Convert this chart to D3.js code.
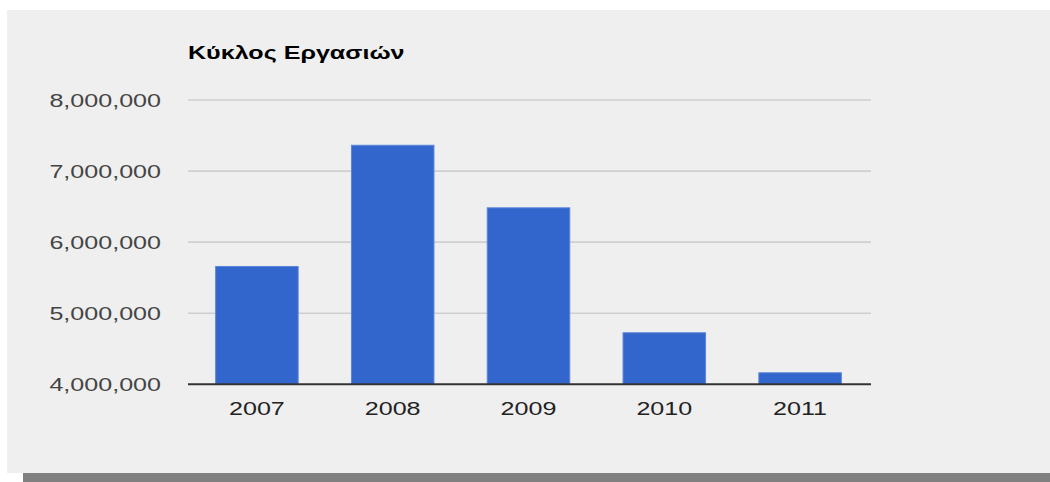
<!DOCTYPE html>
<html>
<head>
<meta charset="utf-8">
<script src="https://cdn.jsdelivr.net/npm/d3@7"></script>
<style>
  html, body { margin: 0; padding: 0; background: #ffffff; }
  svg { display: block; }
</style>
</head>
<body>
<svg id="chart" width="1050" height="482"></svg>
<script>
// ---- data ----
const title = "Κύκλος Εργασιών";
const categories = ["2007", "2008", "2009", "2010", "2011"];
const values = [5665000, 7370000, 6490000, 4732000, 4169000];
const yTicks = [4000000, 5000000, 6000000, 7000000, 8000000];
const yDomain = [4000000, 8000000];

// ---- layout ----
const W = 1050, H = 482;
const plot = { left: 188, right: 871, top: 100, bottom: 384.3 };
const stretch = 1.32; // reference text is horizontally stretched

const svg = d3.select("#chart");

// shadow bar + panel
svg.append("rect").attr("x", 23).attr("y", 473).attr("width", W - 23).attr("height", H - 473).attr("fill", "#808080");
svg.append("rect").attr("x", 7).attr("y", 10).attr("width", W - 7).attr("height", 463).attr("fill", "#efefef");

const x = d3.scaleBand().domain(categories).range([189, 868]).paddingInner(0.385).paddingOuter(0.1925);
const y = d3.scaleLinear().domain(yDomain).range([plot.bottom, plot.top]);

function stretchText(sel) {
  sel.each(function() {
    const len = this.getComputedTextLength();
    d3.select(this).attr("textLength", len * stretch).attr("lengthAdjust", "spacingAndGlyphs");
  });
}

// gridlines
svg.append("g").selectAll("line").data(yTicks.filter(t => t !== yDomain[0])).join("line")
  .attr("x1", plot.left).attr("x2", plot.right)
  .attr("y1", d => y(d)).attr("y2", d => y(d))
  .attr("stroke", "#cfcfcf").attr("stroke-width", 1.6);

// y axis labels
const fmt = d3.format(",");
svg.append("g").selectAll("text").data(yTicks).join("text")
  .attr("x", 161).attr("y", d => y(d)).attr("dy", "0.36em")
  .attr("text-anchor", "end")
  .attr("font-family", "Liberation Sans, Arial, sans-serif").attr("font-size", 19)
  .attr("fill", "#444444")
  .text(d => fmt(d))
  .call(stretchText);

// bars
svg.append("g").selectAll("rect").data(values).join("rect")
  .attr("x", (d, i) => x(categories[i]) + 0.5)
  .attr("width", x.bandwidth() - 1)
  .attr("y", d => y(d) + 0.5)
  .attr("height", d => y(yDomain[0]) - y(d) - 0.5)
  .attr("fill", "#3366cc")
  .attr("stroke", "#5b86d9").attr("stroke-width", 1);

// baseline axis
svg.append("line").attr("x1", plot.left).attr("x2", plot.right)
  .attr("y1", y(yDomain[0])).attr("y2", y(yDomain[0]))
  .attr("stroke", "#333333").attr("stroke-width", 2);

// x labels
svg.append("g").selectAll("text").data(categories).join("text")
  .attr("x", d => x(d) + x.bandwidth() / 2).attr("y", 415)
  .attr("text-anchor", "middle")
  .attr("font-family", "Liberation Sans, Arial, sans-serif").attr("font-size", 19)
  .attr("fill", "#222222")
  .text(d => d)
  .call(stretchText);

// title
svg.append("text").attr("x", 188).attr("y", 59)
  .attr("font-family", "Liberation Sans, Arial, sans-serif").attr("font-size", 19)
  .attr("font-weight", "bold").attr("fill", "#000000")
  .text(title)
  .call(stretchText);
</script>
</body>
</html>
